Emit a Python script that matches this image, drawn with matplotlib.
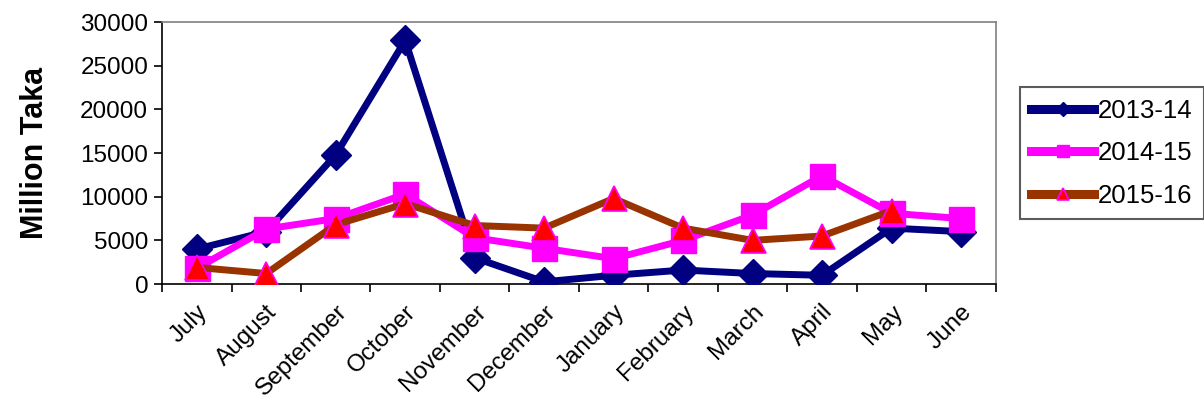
import matplotlib
matplotlib.use("Agg")
import matplotlib.pyplot as plt
import numpy as np

plt.rcParams['font.family'] = ['Liberation Sans', 'DejaVu Sans']

months = ['July', 'August', 'September', 'October', 'November', 'December',
          'January', 'February', 'March', 'April', 'May', 'June']
fy_2013_14 = [4000, 6000, 14800, 27900, 3000, 250, 1000, 1600, 1200, 1000, 6400, 6000]
fy_2014_15 = [1800, 6300, 7500, 10300, 5300, 4100, 2900, 5000, 7900, 12400, 8100, 7500]
fy_2015_16 = [1900, 1200, 6800, 9200, 6700, 6400, 9800, 6400, 5000, 5500, 8400]

fig = plt.figure(figsize=(12.04, 4.09), dpi=100)
ax = fig.add_axes([0.1346, 0.3056, 0.6924, 0.6404])

x = np.arange(len(months))
ax.plot(x, fy_2013_14, color='#000080', lw=5, marker='D', ms=15,
        mfc='#000080', mec='#000080', label='2013-14', zorder=3)
ax.plot(x, fy_2014_15, color='#FF00FF', lw=5, marker='s', ms=18,
        mfc='#FF00FF', mec='#FF00FF', label='2014-15', zorder=4)
ax.plot(x[:len(fy_2015_16)], fy_2015_16, color='#993300', lw=5, marker='^', ms=18,
        mfc='#FF0000', mec='#FF00FF', mew=1.2, label='2015-16', zorder=5)

ax.set_xlim(-0.5, 11.5)
ax.set_ylim(0, 30000)
ax.set_yticks(range(0, 30001, 5000))
ax.set_xticks(x)
ax.set_xticklabels(months, rotation=45, ha='right', rotation_mode='anchor', fontsize=17.5)
ax.tick_params(axis='x', which='major', length=0, pad=12)
ax.set_xticks(np.arange(-0.5, 12, 1), minor=True)
ax.tick_params(axis='x', which='minor', length=6, width=1.2, direction='out')
ax.tick_params(axis='y', labelsize=17.5, length=6, width=1.2, direction='out', pad=4)

ax.set_ylabel('Million Taka', fontsize=22, fontweight='bold', labelpad=22)

for side in ['top', 'right']:
    ax.spines[side].set_color('#808080')
    ax.spines[side].set_linewidth(1.2)
for side in ['left', 'bottom']:
    ax.spines[side].set_color('#000000')
    ax.spines[side].set_linewidth(1.2)

leg = ax.legend(loc='center left', bbox_to_anchor=(1.029, 0.5), fontsize=18.5,
                frameon=True, fancybox=False, edgecolor='#333333', borderaxespad=0,
                handlelength=2.45, handletextpad=0.12, markerscale=0.5,
                labelspacing=0.72, borderpad=0.45)
leg.get_frame().set_linewidth(1.5)
for line in leg.get_lines():
    line.set_linewidth(6.5)

fig.savefig('out.png', dpi=100)
